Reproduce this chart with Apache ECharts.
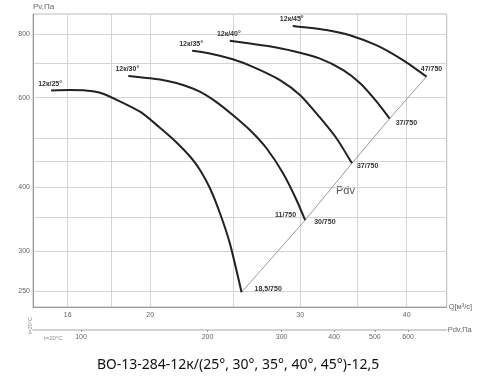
<!DOCTYPE html>
<html><head><meta charset="utf-8">
<script src="https://cdn.jsdelivr.net/npm/echarts@6/dist/echarts.min.js"></script>
<style>html,body{margin:0;padding:0;background:#fff}#c{width:500px;height:385px}</style>
</head><body><div id="c"></div>
<script>
// ---- data (Q, Pv in Pa) ----
const curveNames = ['12к/25°', '12к/30°', '12к/35°', '12к/40°', '12к/45°'];
const curve25 = [[15.3,620],[16.1,621],[16.8,620],[17.5,613],[18.4,591],[19.5,562],[20.5,525],[21.4,493],[22.3,459],[22.9,432],[23.5,399],[24.15,356],[24.8,311],[25.6,249]];
const curve30 = [[18.85,662],[20.0,655],[20.9,648],[21.9,635],[22.9,616],[23.9,589],[25.0,555],[26.2,518],[27.4,477],[28.65,426],[29.7,378],[30.4,345]];
const curve35 = [[22.4,742],[23.5,733],[25.0,714],[26.4,690],[28.4,650],[30.0,607],[31.6,550],[33.1,499],[34.5,446]];
const curve40 = [[24.8,776],[26.2,767],[27.6,757],[29.4,741],[31.6,717],[33.7,680],[35.3,640],[36.9,589],[38.2,546]];
const curve45 = [[29.4,830],[32.2,815],[34.3,796],[36.9,760],[39.6,711],[42.2,660]];
const endLabels = ['18,5/750', '30/750', '37/750', '37/750', '47/750'];
const extraEndLabel = '11/750';
const qGrid = [16, 18, 20, 25, 30, 35, 40];
const qTickLabels = [16, 20, 30, 40];
const pvGrid = [250, 300, 350, 400, 450, 500, 600, 700, 800];
const pvTickLabels = [250, 300, 400, 600, 800];
const pdvTicks = [100, 200, 300, 400, 500, 600];
const qRange = [14.57, 44.57];
const pvRange = [233, 876];
const pdvRange = [76.9, 741];
const titleText = 'ВО-13-284-12к/(25°, 30°, 35°, 40°, 45°)-12,5';

// ---- build ----
const lg = Math.log10;
const fmt = v => String(Math.round(Math.pow(10, v)));
const curves = [curve25, curve30, curve35, curve40, curve45];
const lblFont = {fontSize: 7, fontWeight: 'bold', color: '#333', fontFamily: 'Liberation Sans'};

const series = curves.map((c, i) => ({
  type: 'line', xAxisIndex: 0, yAxisIndex: 0, name: curveNames[i],
  symbol: 'circle', symbolSize: 0, showSymbol: true, showAllSymbol: true,
  smooth: 0.25, silent: true, z: 3,
  lineStyle: {color: '#222', width: 2},
  label: {show: false},
  data: c.map((p, j) => {
    const item = {value: [lg(p[0]), lg(p[1])]};
    if (j === 0) item.label = Object.assign({show: true, position: 'top', distance: 3, offset: [-1, 0], formatter: curveNames[i]}, lblFont);
    if (i === 1 && j === c.length - 1) item.label = Object.assign({show: true, position: 'left', distance: 9, offset: [0, -5], formatter: extraEndLabel}, lblFont);
    return item;
  })
}));

const endStyles = [
  {position: 'right', distance: 13, offset: [0, -3]},
  {position: 'right', distance: 9, offset: [0, 2]},
  {position: 'right', distance: 5, offset: [0, 3]},
  {position: 'right', distance: 6, offset: [0, 4]},
  {position: 'top', distance: 4, offset: [5, 0]}
];
series.push({
  type: 'line', xAxisIndex: 0, yAxisIndex: 0, symbol: 'circle', symbolSize: 0, showAllSymbol: true, silent: true, z: 2,
  lineStyle: {color: '#9a9a9a', width: 1},
  data: curves.map((c, i) => {
    const p = c[c.length - 1];
    return {value: [lg(p[0]), lg(p[1])], label: Object.assign({show: true, formatter: endLabels[i]}, endStyles[i], lblFont)};
  })
});

const axisTxt = {fontSize: 7, color: '#666', fontFamily: 'Liberation Sans'};
const option = {
  animation: false,
  backgroundColor: '#fff',
  title: {text: titleText, left: 92, top: 353, textStyle: {fontSize: 14, fontWeight: 'normal', color: '#111', fontFamily: 'Noto Sans'}},
  grid: [
    {left: 33, top: 14, width: 413.7, height: 293, show: true, borderColor: '#bbb', borderWidth: 1},
    {left: 33, top: 329, width: 413.7, height: 1}
  ],
  xAxis: [
    {type: 'value', gridIndex: 0, min: lg(qRange[0]), max: lg(qRange[1]),
     axisLine: {show: true, lineStyle: {color: '#999'}},
     axisTick: {show: false, customValues: qGrid.map(lg)},
     axisLabel: Object.assign({customValues: qTickLabels.map(lg), formatter: fmt, margin: 5}, axisTxt),
     splitLine: {show: true, lineStyle: {color: '#d4d4d4', width: 1}},
     name: 'Q[м³/с]', nameLocation: 'end', nameGap: 2,
     nameTextStyle: {fontSize: 7.5, color: '#666', fontFamily: 'Liberation Sans', padding: [0, 0, 6, 0]}},
    {type: 'value', gridIndex: 1, min: lg(pdvRange[0]), max: lg(pdvRange[1]),
     axisLine: {show: true, lineStyle: {color: '#c4c4c4', width: 1.5}},
     axisTick: {show: true, length: 2, customValues: pdvTicks.map(lg), lineStyle: {color: '#999'}},
     axisLabel: Object.assign({customValues: pdvTicks.map(lg), formatter: fmt, margin: 4}, axisTxt),
     splitLine: {show: false},
     name: 'Pdv,Па', nameLocation: 'end', nameGap: 1,
     nameTextStyle: {fontSize: 7.5, color: '#666', fontFamily: 'Liberation Sans'}}
  ],
  yAxis: [
    {type: 'value', gridIndex: 0, min: lg(pvRange[0]), max: lg(pvRange[1]),
     axisLine: {show: true, lineStyle: {color: '#999'}},
     axisTick: {show: false, customValues: pvGrid.map(lg)},
     axisLabel: Object.assign({customValues: pvTickLabels.map(lg), formatter: fmt, margin: 3}, axisTxt),
     splitLine: {show: true, lineStyle: {color: '#d4d4d4', width: 1}},
     name: 'Pv,Па', nameLocation: 'end', nameGap: 3,
     nameTextStyle: {fontSize: 8, color: '#666', fontFamily: 'Liberation Sans', align: 'left'}},
    {type: 'value', gridIndex: 1, show: false, min: 0, max: 1}
  ],
  graphic: [
    {type: 'text', left: 44, top: 335, style: {text: 't=20°C', fontSize: 6, fill: '#888', fontFamily: 'Liberation Sans'}},
    {type: 'text', x: 27, y: 334, rotation: Math.PI / 2, style: {text: 't=20°C', fontSize: 5.5, fill: '#888', fontFamily: 'Liberation Sans'}},
    {type: 'text', left: 336, top: 185, style: {text: 'Pdv', fontSize: 11, fill: '#555', fontFamily: 'Liberation Sans'}}
  ],
  series: series
};
const chart = echarts.init(document.getElementById('c'), null, {renderer: 'canvas'});
chart.setOption(option);
</script>
</body></html>
